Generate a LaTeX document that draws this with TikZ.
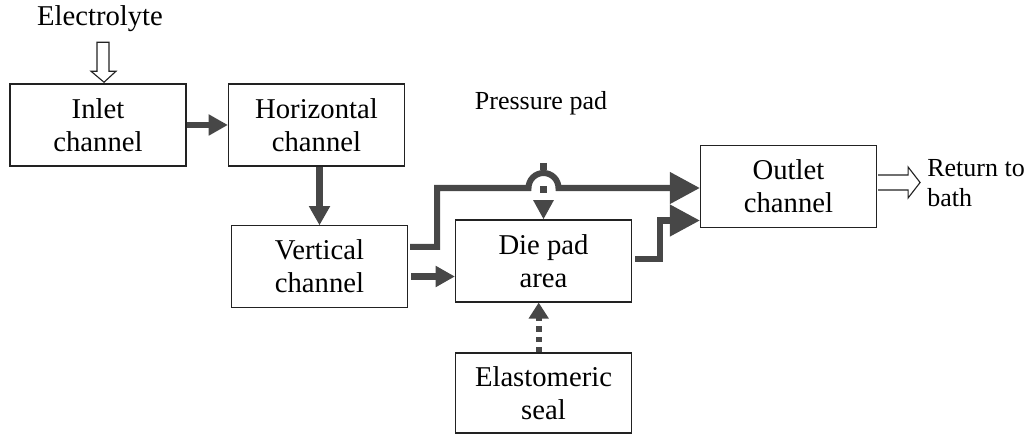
\documentclass[tikz,border=0pt]{standalone}
\usepackage{fontspec}
\setmainfont{Liberation Serif}
\usetikzlibrary{arrows.meta,calc}
\definecolor{flowc}{HTML}{474747}
\definecolor{boxc}{HTML}{222222}
\tikzset{
  box/.style={draw=boxc, line width=0.8pt, minimum width=4.4cm, minimum height=2.05cm,
    align=center, inner sep=0pt, font=\fontsize{20.4}{23.5}\selectfont},
  lbl/.style={inner sep=0pt, font=\fontsize{18.5}{21.5}\selectfont},
  flow/.style={draw=flowc, line width=4.3pt},
  smalltip/.style={-{Triangle[length=0.48cm,width=0.5cm]}},
  bigtip/.style={-{Triangle[length=0.75cm,width=0.76cm]}},
  hollow/.style={draw=boxc, line width=0.8pt, fill=white, line join=miter}
}
\begin{document}
\begin{tikzpicture}[x=0.025cm, y=-0.025cm]
\useasboundingbox (0,0) rectangle (1033,438);
% nodes
\node[box] (inlet) at (98,125) {Inlet\\channel};
\node[box] (horiz) at (316.5,125) {Horizontal\\channel};
\node[box, minimum height=2.03cm] (vert) at (319.5,266.5) {Vertical\\channel};
\node[box] (die) at (543.5,261) {Die pad\\area};
\node[box, minimum height=2.03cm] (outlet) at (788.5,186.5) {Outlet\\channel};
\node[box, minimum height=2cm] (seal) at (543.5,393) {Elastomeric\\seal};
\node[lbl, font=\fontsize{20.4}{23.5}\selectfont] (elec) at (100,19) {Electrolyte};
\node[lbl] (pp) at (541,103) {Pressure pad};
\node[lbl, anchor=west, align=left] (ret) at (927,183) {Return to\\bath};
% hollow arrow: electrolyte
\coordinate (ein) at ([xshift=0.15cm, yshift=0.03cm]inlet.north);
\draw[hollow] (ein) -- ++(-13,-11) -- ++(6,0) -- ++(0,-29) -- ++(12,0) -- ++(0,29) -- ++(7,0) -- cycle;
% hollow arrow: return
\coordinate (rout) at ([yshift=0.1cm]outlet.east);
\draw[hollow] (rout) ++(1,-7.5) -- ++(30,0) -- ++(0,-8) -- ++(12,15.5) -- ++(-12,15.5) -- ++(0,-8) -- ++(-30,0);
% flows
\draw[flow, smalltip] (inlet.east) -- (horiz.west);
\draw[flow, smalltip] (vert.north |- horiz.south) -- (vert.north);
\draw[flow, smalltip] ([xshift=0.08cm, yshift=-0.25cm]vert.east) -- ([yshift=-0.25cm]vert.east -| die.west);
\coordinate (hop) at (die.north |- 0,188);
\draw[flow, bigtip] ([xshift=0.05cm, yshift=0.49cm]vert.east) -- ++(27,0) |- ($(hop)+(-15,0)$)
  arc[start angle=180, end angle=360, radius=15] -- (outlet.west |- hop);
\draw[flow, bigtip] ([xshift=0.08cm, yshift=0.05cm]die.east) -- ++(25,0) |- ([yshift=-0.85cm]outlet.west);
% dashed arrows
\coordinate (pptop) at (die.north |- 0,163);
\draw[flow, dash pattern=on 0.175cm off 0.4cm, -{Triangle[length=0.48cm,width=0.48cm]}] (pptop) -- (die.north);
\draw[flow, dash pattern=on 0.13cm off 0.13cm, -{Triangle[length=0.4cm,width=0.48cm]}] ([xshift=-0.12cm]seal.north) -- ([xshift=-0.12cm]die.south);
\end{tikzpicture}
\end{document}
